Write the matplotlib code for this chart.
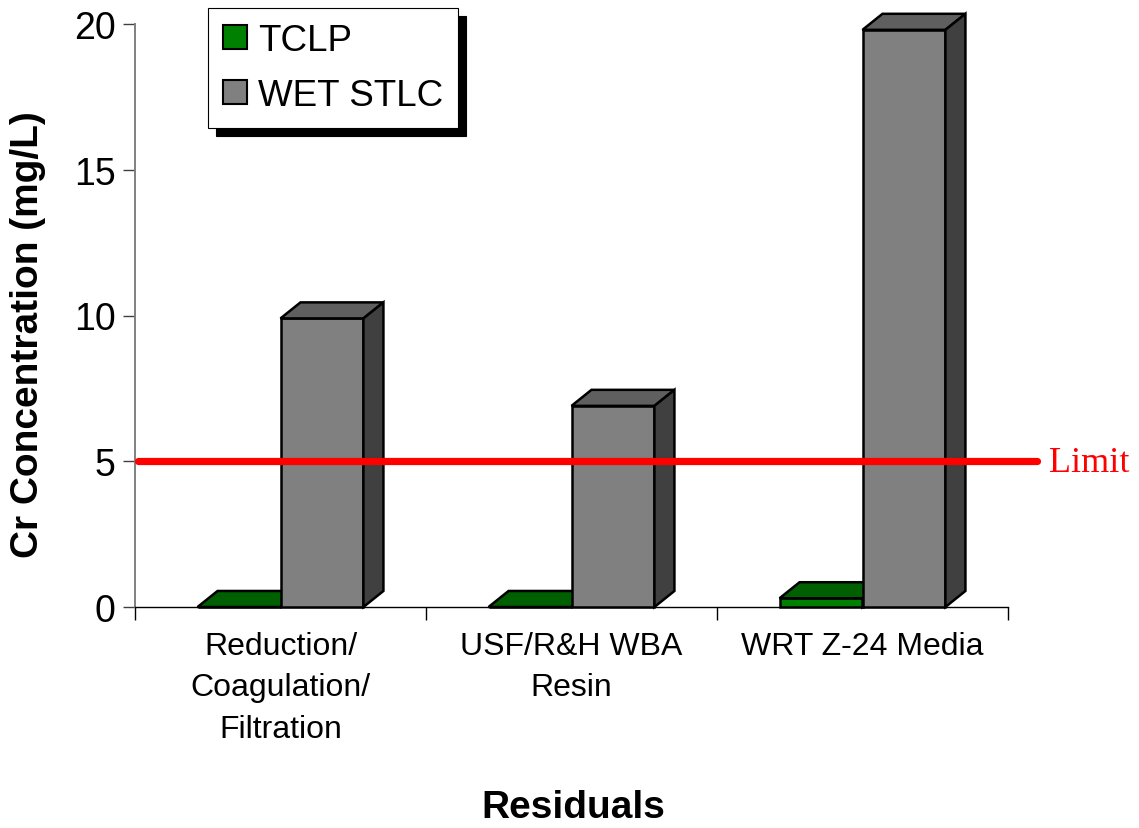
import matplotlib
matplotlib.use("Agg")
import matplotlib.pyplot as plt
from matplotlib.patches import Polygon, Patch

categories = ["Reduction/\nCoagulation/\nFiltration", "USF/R&H WBA\nResin", "WRT Z-24 Media"]
tclp = [0.0, 0.0, 0.3]
wet_stlc = [9.9, 6.9, 19.8]
series_names = ["TCLP", "WET STLC"]
limit = 5
y_ticks = [0, 5, 10, 15, 20]

# face colours: front, top, side
green = ("#008000", "#005f00", "#004000")
gray = ("#808080", "#5f5f5f", "#404040")

bar_w = 0.285
dx, dy = 0.0687, 0.55   # fake 3d depth in data units

plt.rcParams["font.family"] = ["Liberation Sans", "DejaVu Sans"]

fig = plt.figure(figsize=(11.39, 8.29), dpi=100)
ax = fig.add_axes([135 / 1139, 221 / 829, 873 / 1139, 583 / 829])
ax.set_xlim(0, len(categories))
ax.set_ylim(0, 20)


def box3d(x0, h, cols):
    front = Polygon([(x0, 0), (x0 + bar_w, 0), (x0 + bar_w, h), (x0, h)])
    top = Polygon([(x0, h), (x0 + bar_w, h), (x0 + bar_w + dx, h + dy), (x0 + dx, h + dy)])
    side = Polygon([(x0 + bar_w, 0), (x0 + bar_w + dx, dy), (x0 + bar_w + dx, h + dy), (x0 + bar_w, h)])
    for p, c in zip((front, top, side), cols):
        p.set_facecolor(c)
        p.set_edgecolor("black")
        p.set_linewidth(1.8)
        p.set_joinstyle("miter")
        p.set_clip_on(False)
        p.set_zorder(3)
        ax.add_patch(p)


for i in range(len(categories)):
    box3d(i + 0.5 - bar_w, tclp[i], green)
    box3d(i + 0.5, wet_stlc[i], gray)

# limit line runs a little past the plot area
ax.plot([0.012, 3.10], [limit, limit], color="red", lw=5.2,
        solid_capstyle="round", clip_on=False, zorder=5)
ax.annotate("Limit", xy=(3.10, limit), xytext=(12, -10), textcoords="offset pixels",
            color="red", fontsize=26, family=["Liberation Serif", "DejaVu Serif"],
            ha="left", va="baseline", annotation_clip=False)

ax.spines["top"].set_visible(False)
ax.spines["right"].set_visible(False)
ax.spines["left"].set_color("#808080")
ax.spines["left"].set_linewidth(1.4)
ax.spines["bottom"].set_color("black")
ax.spines["bottom"].set_linewidth(1.0)

ax.set_yticks(y_ticks)
ax.tick_params(axis="y", labelsize=27, length=9, width=1.0, color="#404040", pad=5)
ax.set_xticks(range(len(categories) + 1))
ax.set_xticklabels([])
ax.set_xticks([i + 0.5 for i in range(len(categories))], minor=True)
ax.set_xticklabels(categories, minor=True, fontsize=23, linespacing=1.5)
ax.tick_params(axis="x", which="major", length=9, width=1.0, color="black")
ax.tick_params(axis="x", which="minor", length=0, pad=17)

fig.text(573 / 1139, 1 - 808 / 829, "Residuals", fontsize=28, fontweight="bold",
         ha="center", va="center")
fig.text(28 / 1139, 1 - 335 / 829, "Cr Concentration (mg/L)", fontsize=28,
         fontweight="bold", rotation=90, ha="center", va="center")

handles = [Patch(facecolor=green[0], edgecolor="black", lw=1.5),
           Patch(facecolor=gray[0], edgecolor="black", lw=1.5)]
leg = ax.legend(handles, series_names, loc="upper left",
                bbox_to_anchor=(208 / 1139, 1 - 9 / 829), bbox_transform=fig.transFigure,
                borderaxespad=0, fontsize=26.5, handlelength=0.65, handleheight=0.65,
                handletextpad=0.3, borderpad=0.4, labelspacing=0.55,
                fancybox=False, framealpha=1,
                shadow={"ox": 6, "oy": -6, "color": "black", "alpha": 1})
leg.get_frame().set_edgecolor("black")
leg.get_frame().set_linewidth(0.8)
leg.set_zorder(10)

fig.savefig("out.png", dpi=100)
